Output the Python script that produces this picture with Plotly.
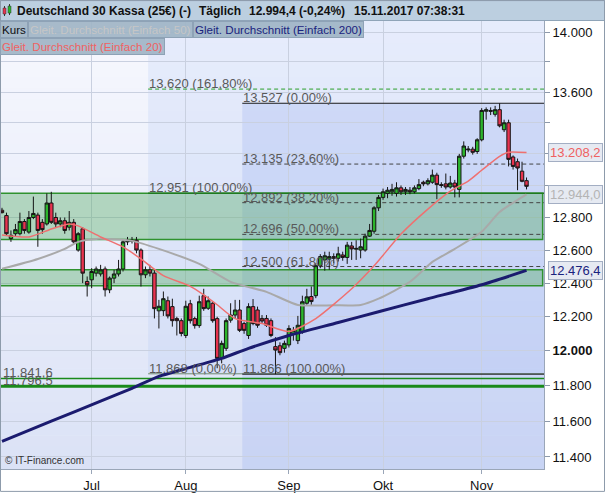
import math
import pandas as pd
import plotly.graph_objects as go

# ---------------- data ----------------
dates = [d.strftime("%Y-%m-%d") for d in pd.bdate_range("2017-06-05", "2017-11-15")]

open_ = [12845, 12812, 12670, 12700, 12700, 12775, 12710, 12800, 12815, 12770,
         12760, 12890, 12800, 12760, 12780, 12740, 12770, 12600, 12730, 12410,
         12420, 12460, 12455, 12485, 12360, 12430, 12455, 12485, 12650, 12660,
         12660, 12600, 12450, 12480, 12460, 12235, 12236, 12295, 12260, 12189,
         12177, 12090, 12277, 12189, 12148, 12325, 12250, 12280, 12189, 11957,
         12015, 12180, 12210, 12240, 12160, 12090, 12260, 12240, 12190, 12190,
         12177, 12025, 12030, 12015, 12035, 12100, 12060, 12113, 12280, 12320,
         12325, 12505, 12540, 12545, 12560, 12550, 12570, 12555, 12625, 12605,
         12600, 12600, 12685, 12715, 12860, 12925, 12950, 12960, 12950, 12985,
         12960, 12970, 12960, 12980, 13020, 13010, 13020, 13065, 13005, 13010,
         12990, 13015, 12975, 13185, 13225, 13230, 13215, 13290, 13475, 13480,
         13455, 13485, 13355, 13400, 13180, 13150, 13090, 13030]
high = [12860, 12830, 12720, 12760, 12830, 12790, 12840, 12930, 12830, 12790,
        12950, 12960, 12830, 12800, 12800, 12840, 12790, 12710, 12740, 12440,
        12490, 12500, 12510, 12500, 12440, 12480, 12540, 12660, 12680, 12680,
        12680, 12610, 12500, 12510, 12480, 12300, 12350, 12320, 12307, 12200,
        12190, 12295, 12300, 12200, 12325, 12366, 12320, 12290, 12200, 12060,
        12190, 12280, 12300, 12300, 12170, 12280, 12305, 12260, 12210, 12210,
        12190, 12080, 12050, 12060, 12150, 12140, 12205, 12325, 12366, 12380,
        12520, 12575, 12590, 12590, 12580, 12620, 12590, 12650, 12650, 12660,
        12670, 12700, 12760, 12870, 12940, 12980, 12990, 13010, 13020, 13000,
        12990, 12990, 13000, 13040, 13030, 13045, 13100, 13080, 13020, 13075,
        13060, 13035, 13200, 13280, 13250, 13245, 13300, 13495, 13500, 13500,
        13510, 13527, 13420, 13420, 13190, 13170, 13150, 13050]
low = [12825, 12690, 12650, 12680, 12690, 12700, 12700, 12790, 12620, 12700,
       12750, 12760, 12740, 12740, 12700, 12720, 12640, 12590, 12400, 12320,
       12370, 12440, 12440, 12320, 12340, 12400, 12440, 12470, 12630, 12640,
       12580, 12380, 12430, 12440, 12190, 12131, 12205, 12190, 12142, 12090,
       12085, 12075, 12160, 12130, 12135, 12235, 12240, 12165, 11900, 11928,
       12000, 12165, 12190, 12110, 12100, 12070, 12150, 12135, 12160, 12140,
       12080, 11866, 11975, 11990, 12020, 12060, 12040, 12100, 12270, 12270,
       12310, 12490, 12475, 12480, 12520, 12530, 12535, 12516, 12540, 12540,
       12550, 12590, 12680, 12700, 12840, 12910, 12920, 12935, 12930, 12940,
       12940, 12945, 12950, 12970, 12995, 13000, 13010, 12914, 12985, 12975,
       12980, 12925, 12925, 13170, 13210, 13195, 13200, 13280, 13420, 13450,
       13440, 13370, 13340, 13120, 13100, 12970, 13020, 12975]
close = [12830, 12700, 12690, 12725, 12775, 12720, 12800, 12825, 12720, 12725,
         12890, 12770, 12760, 12780, 12720, 12770, 12650, 12700, 12460, 12390,
         12470, 12485, 12480, 12360, 12430, 12455, 12485, 12650, 12660, 12655,
         12600, 12450, 12480, 12460, 12248, 12262, 12307, 12205, 12177, 12177,
         12102, 12262, 12177, 12148, 12289, 12248, 12295, 12177, 11957, 12044,
         12177, 12210, 12240, 12120, 12120, 12260, 12160, 12150, 12175, 12150,
         12090, 12005, 11990, 12044, 12131, 12120, 12150, 12289, 12318, 12290,
         12505, 12560, 12565, 12560, 12550, 12577, 12555, 12630, 12607, 12610,
         12620, 12685, 12720, 12860, 12925, 12960, 12970, 12975, 12985, 12960,
         12975, 12960, 12985, 13005, 13010, 13030, 13065, 13005, 13000, 12990,
         13015, 12990, 13185, 13250, 13230, 13210, 13290, 13480, 13485, 13475,
         13485, 13380, 13400, 13165, 13120, 13110, 13026, 12994.4]

ma20_dates = ["2017-06-05", "2017-06-13", "2017-06-20", "2017-06-26", "2017-06-28", "2017-07-05",
              "2017-07-12", "2017-07-18", "2017-07-25", "2017-08-02", "2017-08-07", "2017-08-10",
              "2017-08-16", "2017-08-24", "2017-09-01", "2017-09-11", "2017-09-21", "2017-09-28",
              "2017-10-06", "2017-10-16", "2017-10-23", "2017-10-27", "2017-11-01", "2017-11-07",
              "2017-11-09", "2017-11-15"]
ma20_vals = [12692, 12680, 12729, 12760, 12748, 12680, 12619, 12546, 12445, 12381, 12330, 12271,
             12189, 12160, 12113, 12189, 12366, 12504, 12698, 12852, 12964, 13027, 13096, 13184,
             13210, 13208.2]

ma50_dates = ["2017-06-05", "2017-06-15", "2017-06-23", "2017-06-28", "2017-07-04", "2017-07-14",
              "2017-07-24", "2017-08-04", "2017-08-15", "2017-08-25", "2017-09-05", "2017-09-15",
              "2017-09-25", "2017-09-29", "2017-10-10", "2017-10-17", "2017-10-24", "2017-11-01",
              "2017-11-07", "2017-11-15"]
ma50_vals = [12486, 12546, 12607, 12650, 12668, 12656, 12607, 12516, 12408, 12348, 12270, 12268,
             12270, 12307, 12408, 12528, 12607, 12712, 12834, 12944.0]

ma200_dates = ["2017-06-05", "2017-06-20", "2017-07-05", "2017-07-14", "2017-07-24", "2017-08-02",
               "2017-08-11", "2017-08-21", "2017-09-01", "2017-09-18", "2017-09-29", "2017-10-16",
               "2017-11-01", "2017-11-15"]
ma200_vals = [11487, 11599, 11712, 11785, 11853, 11905, 11957, 12015, 12090, 12166, 12230, 12307,
              12390, 12476.4]

# Fibonacci levels
fib_levels = [13620, 12951, 11868, 13527, 13135, 12892, 12696, 12500, 11866]
fib_labels = ["13.620 (161,80%)", "12.951 (100,00%)", "11.868 (0,00%)", "13.527 (0,00%)",
              "13.135 (23,60%)", "12.892 (38,20%)", "12.696 (50,00%)", "12.500 (61,80%)",
              "11.866 (100,00%)"]
fib_start = ["2017-07-20", "2017-07-20", "2017-07-20", "2017-08-18", "2017-08-18",
             "2017-08-18", "2017-08-18", "2017-08-18", "2017-08-18"]

zone_low = [12665, 12385]
zone_high = [12951, 12480]
support_levels = [11841.6, 11796.5]
support_labels = ["11.841,6", "11.796,5"]

month_ticks = ["2017-07-03", "2017-08-01", "2017-09-01", "2017-10-02", "2017-11-01"]
month_labels = ["Jul", "Aug", "Sep", "Okt", "Nov"]

y_ticks = [11400, 11600, 11800, 12000, 12200, 12400, 12600, 12800, 13000, 13200, 13400, 13600, 13800, 14000]
y_ticktext = ["11.400", "11.600", "11.800", "<b>12.000</b>", "12.200", "12.400", "12.600", "12.800",
              "", "", "", "13.600", "", "14.000"]

last_values = [13208.2, 12944.0, 12476.4]
last_texts = ["13.208,2", "12.944,0", "12.476,4"]
last_colors = ["#ef6161", "#b4b4b4", "#1a237e"]

# ---------------- figure ----------------
FONT = "Liberation Sans, Arial, sans-serif"
W, H = 605, 494
ML, MR, MT, MB = 1, 61, 21, 23
PW = W - ML - MR
PH = H - MT - MB


def px_x(p):
    return (p - ML) / PW


def px_y(p):
    return (H - MB - p) / PH


pos = {d: i for i, d in enumerate(dates)}
X_END = len(dates) + 3

fig = go.Figure()

fig.add_trace(go.Candlestick(
    x=dates, open=open_, high=high, low=low, close=close,
    increasing=dict(fillcolor="#2cb52c", line=dict(color="#151515", width=1)),
    decreasing=dict(fillcolor="#e8334f", line=dict(color="#151515", width=1)),
    whiskerwidth=0, showlegend=False, hoverinfo="skip"))

fig.add_trace(go.Scatter(x=ma200_dates, y=ma200_vals, mode="lines",
                         line=dict(color="#1b1b6f", width=3, shape="spline", smoothing=0.6),
                         showlegend=False, hoverinfo="skip"))
fig.add_trace(go.Scatter(x=ma50_dates, y=ma50_vals, mode="lines",
                         line=dict(color="#a9a9a9", width=2, shape="spline", smoothing=0.6),
                         showlegend=False, hoverinfo="skip"))
fig.add_trace(go.Scatter(x=ma20_dates, y=ma20_vals, mode="lines",
                         line=dict(color="#ef7070", width=1.5, shape="spline", smoothing=0.6),
                         showlegend=False, hoverinfo="skip"))

shapes = []
# background gradient
n = 40
c0 = (247, 248, 254)
c1 = (219, 226, 246)
for k in range(n):
    t = (k + 0.5) / n
    col = tuple(round(c0[j] + (c1[j] - c0[j]) * t) for j in range(3))
    shapes.append(dict(type="rect", xref="paper", yref="paper", x0=0, x1=1,
                       y0=1 - (k + 1) / n - 0.001, y1=1 - k / n,
                       fillcolor="rgb(%d,%d,%d)" % col, line=dict(width=0), layer="below"))

# fib shading
a_start = pos[fib_start[0]] - 0.4
b_start = pos[fib_start[3]] - 0.4
shapes.append(dict(type="rect", xref="x", yref="y", x0=a_start, x1=X_END, y0=fib_levels[2], y1=15000,
                   fillcolor="rgba(175,195,245,0.22)", line=dict(width=0), layer="below"))
shapes.append(dict(type="rect", xref="x", yref="y", x0=b_start, x1=X_END, y0=10000, y1=fib_levels[3],
                   fillcolor="rgba(150,175,240,0.27)", line=dict(width=0), layer="below"))

# green zones
for lo, hi in zip(zone_low, zone_high):
    shapes.append(dict(type="rect", xref="x", yref="y", x0=-3, x1=len(dates) + 2.6, y0=lo, y1=hi,
                       fillcolor="rgba(70,165,80,0.35)", line=dict(color="#2f922f", width=1.5),
                       layer="between"))

# support lines
for lvl, w in zip(support_levels, [1.5, 3]):
    shapes.append(dict(type="line", xref="x", yref="y", x0=-3, x1=X_END, y0=lvl, y1=lvl,
                       line=dict(color="#1a8a1a", width=w), layer="between"))

fib_styles = [
    dict(color="#2aa02a", width=1, dash="4px,3px"),
    dict(color="#1e7a1e", width=1.5),
    dict(color="#6f8a6f", width=1),
    dict(color="#1a1a1a", width=1),
    dict(color="#444444", width=1, dash="4px,3px"),
    dict(color="#444444", width=1, dash="4px,3px"),
    dict(color="#444444", width=1, dash="4px,3px"),
    dict(color="#444444", width=1, dash="4px,3px"),
    dict(color="#1a1a1a", width=1),
]
for lvl, st, d in zip(fib_levels, fib_styles, fib_start):
    shapes.append(dict(type="line", xref="x", yref="y", x0=pos[d] - 0.4, x1=X_END, y0=lvl, y1=lvl,
                       line=st, layer="between"))

# header bar
shapes.append(dict(type="rect", xref="paper", yref="paper", x0=px_x(0), x1=px_x(W), y0=px_y(20.5), y1=px_y(0),
                   fillcolor="#bccfe0", line=dict(color="#8fa4b8", width=1), layer="above"))
# small candle icon
shapes.append(dict(type="line", xref="paper", yref="paper", x0=px_x(4.5), x1=px_x(4.5), y0=px_y(16), y1=px_y(6),
                   line=dict(color="#333", width=1), layer="above"))
shapes.append(dict(type="rect", xref="paper", yref="paper", x0=px_x(3), x1=px_x(6), y0=px_y(14), y1=px_y(8),
                   fillcolor="#e8334f", line=dict(color="#333", width=0.5), layer="above"))
shapes.append(dict(type="line", xref="paper", yref="paper", x0=px_x(9.5), x1=px_x(9.5), y0=px_y(15), y1=px_y(4),
                   line=dict(color="#333", width=1), layer="above"))
shapes.append(dict(type="rect", xref="paper", yref="paper", x0=px_x(8), x1=px_x(11), y0=px_y(13), y1=px_y(6),
                   fillcolor="#2cb52c", line=dict(color="#333", width=0.5), layer="above"))
# outer frame
shapes.append(dict(type="rect", xref="paper", yref="paper", x0=px_x(0.5), x1=px_x(W - 0.5), y0=px_y(H - 0.5),
                   y1=px_y(0.5), line=dict(color="#8d9bab", width=1), layer="above"))

annotations = []
# fib labels
for lvl, txt, d in zip(fib_levels, fib_labels, fib_start):
    annotations.append(dict(x=pos[d] - 0.4, y=math.log10(lvl), xref="x", yref="y", text=txt,
                            showarrow=False, xanchor="left", yanchor="bottom", yshift=-3, borderpad=0,
                            font=dict(family=FONT, size=13, color="#595959")))
for lvl, txt in zip(support_levels, support_labels):
    annotations.append(dict(x=px_x(2), y=math.log10(lvl), xref="paper", yref="y", text=txt,
                            showarrow=False, xanchor="left", yanchor="bottom", yshift=-3, borderpad=0,
                            font=dict(family=FONT, size=13, color="#595959")))

# last value boxes on right axis
for v, t, c in zip(last_values, last_texts, last_colors):
    annotations.append(dict(x=px_x(548), y=math.log10(v), xref="paper", yref="y", text=t,
                            showarrow=False, xanchor="left", yanchor="middle",
                            bgcolor="#e6eaf2", bordercolor="#a3aec3", borderwidth=1, borderpad=1,
                            font=dict(family=FONT, size=13, color=c)))

# header texts
hy = px_y(10.5)
for txt, xp in [("Deutschland 30 Kassa (25€) (-)", 15), ("Täglich", 197),
                ("12.994,4 (-0,24%)", 247), ("15.11.2017 07:38:31", 352)]:
    annotations.append(dict(x=px_x(xp), y=hy, xref="paper", yref="paper", text="<b>%s</b>" % txt,
                            showarrow=False, xanchor="left", yanchor="middle",
                            font=dict(family=FONT, size=12, color="#111")))

# legend boxes
leg = [("Kurs", 0, 21, "#111111"),
       ("Gleit. Durchschnitt (Einfach 50)", 28, 21, "#c6c6c6"),
       ("Gleit. Durchschnitt (Einfach 200)", 193, 21, "#1a237e"),
       ("Gleit. Durchschnitt (Einfach 20)", 0, 38.5, "#f06262")]
for txt, xp, yp, col in leg:
    annotations.append(dict(x=px_x(xp), y=px_y(yp), xref="paper", yref="paper", text=txt,
                            showarrow=False, xanchor="left", yanchor="top",
                            bgcolor="rgba(160,180,198,0.92)", bordercolor="#8ea2b6", borderwidth=1,
                            borderpad=1, font=dict(family=FONT, size=11.6, color=col)))

annotations.append(dict(x=px_x(3), y=px_y(462), xref="paper", yref="paper", text="© IT-Finance.com",
                        showarrow=False, xanchor="left", yanchor="middle",
                        font=dict(family=FONT, size=10, color="#333")))

fig.update_layout(
    width=W, height=H,
    margin=dict(l=ML, r=MR, t=MT, b=MB, pad=0),
    paper_bgcolor="white", plot_bgcolor="#eef1fb",
    shapes=shapes, annotations=annotations,
    font=dict(family=FONT, size=13, color="#111"),
    showlegend=False,
    boxgap=0.15, boxgroupgap=0.1,
    xaxis=dict(type="category", range=[-0.22, 120.9], rangeslider=dict(visible=False),
               tickmode="array", tickvals=month_ticks, ticktext=month_labels,
               showgrid=True, gridcolor="#c9d0e0", gridwidth=1,
               ticks="outside", ticklen=4, tickcolor="#9aa6b8",
               showline=True, linecolor="#9aa6b8", linewidth=1,
               tickfont=dict(family=FONT, size=13, color="#111"), zeroline=False, fixedrange=True),
    yaxis=dict(type="log", side="right", range=[math.log10(11334), math.log10(14076)],
               tickmode="array", tickvals=y_ticks, ticktext=y_ticktext,
               showgrid=True, gridcolor="#c9d0e0", gridwidth=1,
               ticks="outside", ticklen=5, tickcolor="#8d99ab",
               showline=True, linecolor="#9aa6b8", linewidth=1,
               tickfont=dict(family=FONT, size=13, color="#111"), zeroline=False, fixedrange=True),
)

fig.write_html("out.html", config={"displayModeBar": False},
               post_script="document.body.style.margin='0px';document.body.style.padding='0px';")
